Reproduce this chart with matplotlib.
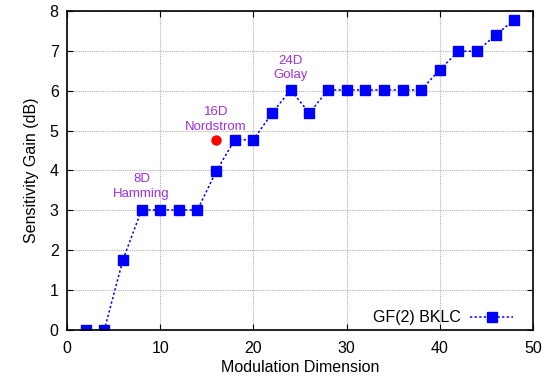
import numpy as np
import matplotlib.pyplot as plt

plt.rcParams['font.family'] = ['Liberation Sans', 'DejaVu Sans']

# データ
dims = [2, 4, 6, 8, 10, 12, 14, 16, 18, 20, 22, 24,
        26, 28, 30, 32, 34, 36, 38, 40, 42, 44, 46, 48]
gain = [0.0, 0.0, 1.76, 3.01, 3.01, 3.01, 3.01, 3.98, 4.77, 4.77, 5.44, 6.02,
        5.44, 6.02, 6.02, 6.02, 6.02, 6.02, 6.02, 6.53, 6.99, 6.99, 7.40, 7.78]
nordstrom_x = [16]
nordstrom_y = [4.77]
code_labels = ['8D\nHamming', '16D\nNordstrom', '24D\nGolay']
code_label_x = [8, 16, 24]
code_label_y = [3.6, 5.28, 6.58]

fig = plt.figure(figsize=(5.52, 3.81), dpi=100)
ax = fig.add_axes([0.1214, 0.1339, 0.8442, 0.8372])

ax.plot(dims, gain, color='#0000ff', linestyle=(0, (1.5, 1.5)), linewidth=1.1,
        marker='s', markersize=6.8, label='GF(2) BKLC')
ax.plot(nordstrom_x, nordstrom_y, 'o', color='#ff0000', markersize=6.5)

for t, x, y in zip(code_labels, code_label_x, code_label_y):
    ax.text(x, y, t, color='#a030e0', ha='center', va='center',
            fontsize=9.5, linespacing=1.25)

ax.set_xlim(0, 50)
ax.set_ylim(0, 8)
ax.set_xticks(np.arange(0, 51, 10))
ax.set_yticks(np.arange(0, 9, 1))
ax.grid(True, color='#b0b0b0', linestyle=(0, (1, 1)), linewidth=0.8)
ax.tick_params(direction='in', top=True, right=True, length=4, labelsize=11.5)
ax.tick_params(axis='x', pad=8)
ax.tick_params(axis='y', pad=6)
for s in ax.spines.values():
    s.set_linewidth(1.2)

ax.set_xlabel('Modulation Dimension', fontsize=11.5, labelpad=3)
ax.set_ylabel('Sensitivity Gain (dB)', fontsize=11.5, labelpad=8)

leg = ax.legend(loc='center right', bbox_to_anchor=(0.971, 0.038),
                markerfirst=False, frameon=False, fontsize=11.5,
                handlelength=2.7, handletextpad=0.6, borderaxespad=0)

fig.savefig('out.png', dpi=100)
